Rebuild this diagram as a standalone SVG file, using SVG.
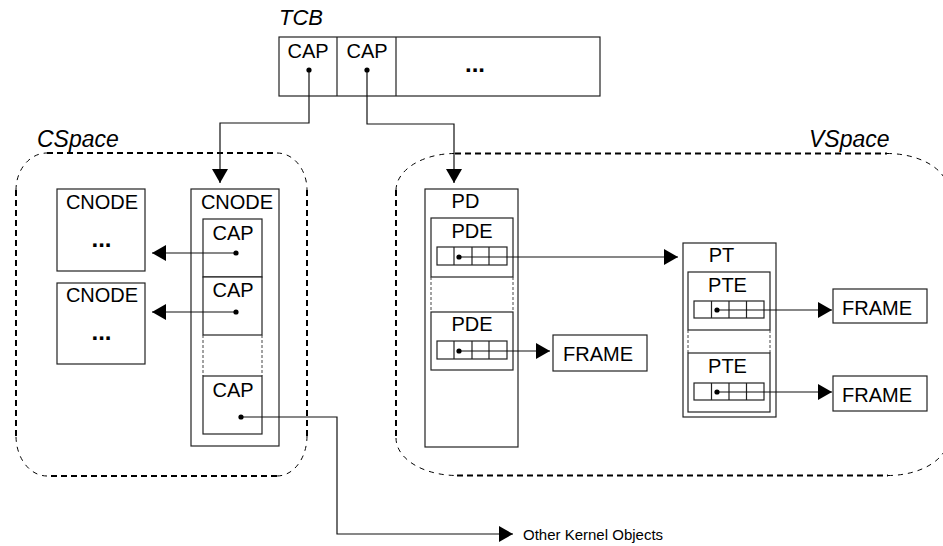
<svg xmlns="http://www.w3.org/2000/svg" width="943" height="546" viewBox="0 0 943 546">
  <style>
    text { font-family: "Liberation Sans", Arial, sans-serif; fill: #000; }
    .lbl { font-size: 20px; }
    .title { font-size: 23px; font-style: italic; }
    .dots { font-size: 24px; font-weight: bold; }
    .small { font-size: 15px; }
    .box { fill: #fff; stroke: #222; stroke-width: 1.2; }
    .sep { fill: none; stroke: #222; stroke-width: 1.2; }
    .gap { fill: none; stroke: #444; stroke-width: 1; stroke-dasharray: 3 2; }
    .wire { fill: none; stroke: #111; stroke-width: 1.2; marker-end: url(#arrow); }
    .pin { fill: #000; }
    .dash-thick { fill: none; stroke: #000; stroke-width: 2; stroke-dasharray: 6 4; }
    .dash-thin { fill: none; stroke: #000; stroke-width: 1; stroke-dasharray: 5 5; }
  </style>
  <defs>
    <marker id="arrow" markerUnits="userSpaceOnUse" markerWidth="14" markerHeight="16" refX="14" refY="8" orient="auto">
      <path d="M0,0 L14,8 L0,16 z" fill="#000"/>
    </marker>
  </defs>

  <!-- dashed regions -->
  <g id="cspace">
    <path class="dash-thick" d="M47,153 H277 M307,190 V436 M277,476 H47 M16,436 V190"/>
    <path class="dash-thin" d="M277,153 A30,37 0 0 1 307,190 M307,436 A30,40 0 0 1 277,476 M47,476 A31,40 0 0 1 16,436 M16,190 A31,37 0 0 1 47,153"/>
    <text class="title" x="37" y="147">CSpace</text>
  </g>
  <g id="vspace">
    <path class="dash-thick" d="M455,153.5 H887 M396,190 V438 M457,475.5 H888"/>
    <path class="dash-thin" d="M396,190 A59,37 0 0 1 455,153.5 M887,153.5 A61,37 0 0 1 948,190 M396,438 A61,37.5 0 0 0 457,475.5 M888,475.5 A60,37 0 0 0 948,438"/>
    <text class="title" x="809" y="147">VSpace</text>
  </g>

  <!-- thread control block -->
  <g id="tcb">
    <text class="title" x="279" y="25" style="font-size:22px">TCB</text>
    <rect class="box" x="279" y="37" width="321" height="59"/>
    <path class="sep" d="M337,37 V96 M396,37 V96"/>
    <text class="lbl" x="308" y="58" text-anchor="middle">CAP</text>
    <text class="lbl" x="367" y="58" text-anchor="middle">CAP</text>
    <text class="dots" x="475" y="72" text-anchor="middle">...</text>
  </g>

  <!-- capability space -->
  <g id="cnode-a">
    <rect class="box" x="57" y="189" width="88" height="82"/>
    <text class="lbl" x="102" y="209" text-anchor="middle">CNODE</text>
    <text class="dots" x="101.5" y="247" text-anchor="middle">...</text>
  </g>
  <g id="cnode-b">
    <rect class="box" x="57" y="283" width="88" height="81"/>
    <text class="lbl" x="102" y="302" text-anchor="middle">CNODE</text>
    <text class="dots" x="101.5" y="340" text-anchor="middle">...</text>
  </g>
  <g id="cnode-root">
    <rect class="box" x="191" y="189" width="88" height="257"/>
    <text class="lbl" x="237" y="209" text-anchor="middle">CNODE</text>
    <rect class="box" x="203" y="219" width="59" height="58"/>
    <rect class="box" x="203" y="277" width="59" height="58"/>
    <path class="gap" d="M203,335 V376 M262,335 V376"/>
    <rect class="box" x="203" y="376" width="59" height="58"/>
    <text class="lbl" x="233" y="240" text-anchor="middle">CAP</text>
    <text class="lbl" x="233" y="297" text-anchor="middle">CAP</text>
    <text class="lbl" x="233" y="397" text-anchor="middle">CAP</text>
  </g>

  <!-- virtual address space -->
  <g id="pd">
    <rect class="box" x="425" y="189" width="93" height="258"/>
    <text class="lbl" x="465.5" y="208" text-anchor="middle">PD</text>
    <rect class="box" x="431" y="218" width="82" height="59"/>
    <text class="lbl" x="472" y="238" text-anchor="middle">PDE</text>
    <rect class="box" x="437" y="247" width="70" height="18"/>
    <path class="sep" d="M454,247 V265 M472,247 V265 M489,247 V265"/>
    <path class="gap" d="M431,277 V312 M513,277 V312"/>
    <rect class="box" x="431" y="312" width="82" height="58"/>
    <text class="lbl" x="472" y="331" text-anchor="middle">PDE</text>
    <rect class="box" x="437" y="341" width="70" height="18"/>
    <path class="sep" d="M454,341 V359 M472,341 V359 M489,341 V359"/>
  </g>
  <g id="pt">
    <rect class="box" x="683" y="243" width="93" height="174"/>
    <text class="lbl" x="721.5" y="262" text-anchor="middle">PT</text>
    <rect class="box" x="688" y="272" width="82" height="58"/>
    <text class="lbl" x="727.5" y="292" text-anchor="middle">PTE</text>
    <rect class="box" x="694" y="301" width="70" height="17"/>
    <path class="sep" d="M711.5,301 V318 M729,301 V318 M746.5,301 V318"/>
    <path class="gap" d="M688,330 V353 M770,330 V353"/>
    <rect class="box" x="688" y="353" width="82" height="59"/>
    <text class="lbl" x="727.5" y="373" text-anchor="middle">PTE</text>
    <rect class="box" x="694" y="383" width="70" height="17"/>
    <path class="sep" d="M711.5,383 V400 M729,383 V400 M746.5,383 V400"/>
  </g>
  <g id="frame-pd">
    <rect class="box" x="553" y="335" width="94" height="36"/>
    <text class="lbl" x="598" y="361" text-anchor="middle">FRAME</text>
  </g>
  <g id="frame-pt-1">
    <rect class="box" x="833" y="289" width="94" height="34"/>
    <text class="lbl" x="877" y="315" text-anchor="middle">FRAME</text>
  </g>
  <g id="frame-pt-2">
    <rect class="box" x="833" y="376" width="94" height="35"/>
    <text class="lbl" x="877" y="402" text-anchor="middle">FRAME</text>
  </g>

  <g id="other-objects">
    <text class="small" x="523" y="540">Other Kernel Objects</text>
  </g>

  <!-- connectors -->
  <g id="connectors">
    <path class="wire" d="M309,70 V123 H220 V183"/>
    <path class="wire" d="M367,70 V124 H454 V183"/>
    <path class="wire" d="M236,253 H152"/>
    <path class="wire" d="M236,312 H152"/>
    <path class="wire" d="M241,417 H337 V534 H513"/>
    <path class="wire" d="M459,257 H678"/>
    <path class="wire" d="M459,351 H550"/>
    <path class="wire" d="M717,310 H832"/>
    <path class="wire" d="M717,392 H832"/>
    <circle class="pin" cx="309" cy="70" r="2.6"/>
    <circle class="pin" cx="367" cy="70" r="2.6"/>
    <circle class="pin" cx="236" cy="253" r="2.6"/>
    <circle class="pin" cx="236" cy="312" r="2.6"/>
    <circle class="pin" cx="241" cy="417" r="2.6"/>
    <circle class="pin" cx="459" cy="257" r="2.6"/>
    <circle class="pin" cx="459" cy="351" r="2.6"/>
    <circle class="pin" cx="717" cy="310" r="2.6"/>
    <circle class="pin" cx="717" cy="392" r="2.6"/>
  </g>
</svg>
